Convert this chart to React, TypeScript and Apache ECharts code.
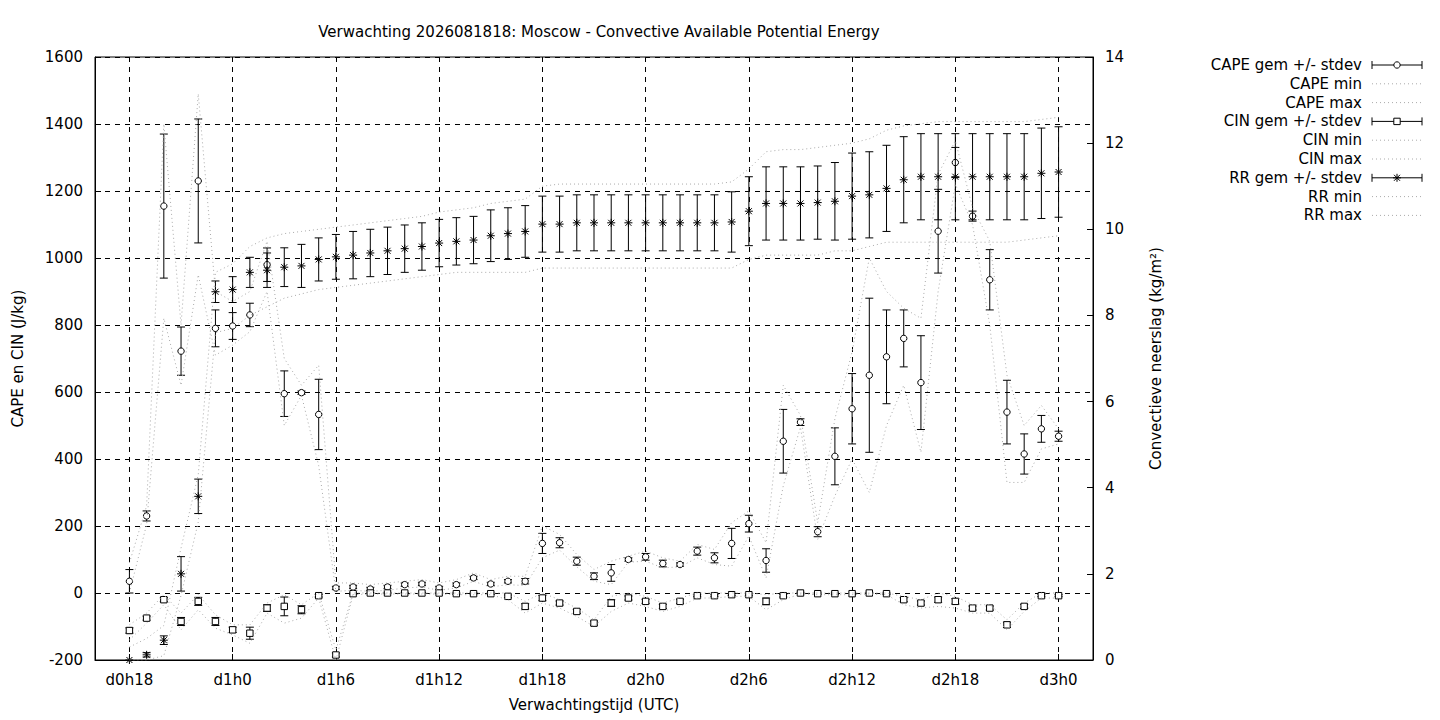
import React, { useEffect, useRef } from 'react';
import * as echarts from 'echarts';

// hours 16..74 on the axis; data runs from hour 18 (d0h18) to 72 (d3h0)
const hours = Array.from({ length: 59 }, (_, i) => 16 + i);
const firstIdx = 2;

const capeMean = [35,230,1155,722,1230,790,797,830,980,595,598,533,15,18,12,18,25,27,15,25,45,27,35,35,148,150,95,50,60,100,108,88,85,125,105,148,207,97,453,510,183,408,550,650,705,760,628,1080,1285,1125,935,540,415,490,468];
const capeStd = [35,15,215,72,185,55,40,35,50,68,5,105,5,5,5,5,5,5,5,5,5,5,5,8,30,15,12,10,25,5,10,10,5,12,15,45,25,35,95,10,15,85,105,230,140,85,140,125,45,15,90,95,60,40,15];
const capeMax = [90,260,1400,800,1490,900,870,900,1050,700,620,680,30,30,25,30,35,40,30,40,60,40,50,50,200,175,115,70,95,110,125,105,95,145,130,210,245,150,620,530,210,520,720,1000,900,850,820,1250,1350,1150,1050,650,500,560,490];
const capeMin = [0,205,820,620,950,710,740,780,900,500,590,380,5,8,5,8,15,18,8,15,35,18,25,22,105,128,78,35,25,92,95,75,78,105,85,80,170,45,320,495,160,290,400,300,500,620,420,900,1220,1100,800,330,330,430,445];
const cinMean = [-112,-75,-20,-85,-25,-85,-110,-120,-45,-40,-50,-8,-185,-2,0,0,0,0,0,-2,-2,-2,-10,-40,-15,-30,-55,-90,-30,-15,-25,-40,-25,-8,-8,-5,-5,-25,-8,0,-2,-2,-2,0,-2,-20,-30,-20,-25,-45,-45,-95,-40,-8,-8];
const cinStd = [8,6,6,12,12,12,8,18,10,28,12,4,6,2,2,2,2,2,2,2,2,2,4,8,8,6,6,6,10,6,6,6,6,3,3,3,3,10,4,2,2,2,2,2,2,6,6,8,8,6,6,8,6,3,3];
const cinMax = [-95,-60,-5,-60,-5,-65,-95,-95,-30,-5,-35,0,-170,0,0,0,0,0,0,0,0,0,0,-25,0,-20,-45,-80,-10,0,-10,-30,-15,0,0,0,0,-5,0,0,0,0,0,0,0,-10,-20,0,-10,-35,-35,-80,-30,0,0];
const cinMin = [-140,-90,-35,-110,-50,-105,-125,-150,-60,-90,-75,-15,-200,-5,-3,-3,-3,-3,-3,-5,-5,-5,-20,-60,-30,-45,-70,-100,-55,-30,-40,-55,-40,-15,-15,-10,-10,-50,-20,-3,-5,-5,-5,-3,-5,-35,-45,-40,-45,-60,-60,-110,-55,-15,-15];
const rrMean = [0,0.12,0.46,2.0,3.8,8.55,8.6,9.0,9.05,9.12,9.15,9.3,9.36,9.4,9.45,9.5,9.55,9.6,9.68,9.72,9.75,9.85,9.9,9.95,10.12,10.12,10.15,10.15,10.15,10.15,10.15,10.15,10.15,10.15,10.15,10.17,10.42,10.6,10.6,10.6,10.62,10.65,10.77,10.8,10.95,11.15,11.22,11.22,11.22,11.22,11.22,11.22,11.22,11.3,11.33];
const rrStd = [0,0.05,0.1,0.4,0.4,0.25,0.3,0.35,0.4,0.45,0.5,0.5,0.52,0.55,0.55,0.55,0.55,0.55,0.55,0.55,0.55,0.6,0.6,0.6,0.65,0.65,0.65,0.65,0.65,0.65,0.65,0.65,0.65,0.65,0.65,0.7,0.8,0.85,0.85,0.85,0.85,0.9,1.0,1.0,1.0,1.0,1.0,1.0,1.0,1.0,1.0,1.0,1.0,1.05,1.05];
const rrMax = [0.3,0.5,0.8,2.6,4.3,9.0,9.2,9.6,9.8,9.9,9.95,10.0,10.05,10.1,10.15,10.2,10.25,10.3,10.4,10.45,10.5,10.6,10.65,10.7,11.0,11.05,11.05,11.05,11.05,11.05,11.05,11.05,11.05,11.05,11.05,11.1,11.4,11.8,11.85,11.85,11.9,11.95,12.0,12.1,12.3,12.4,12.45,12.5,12.5,12.5,12.5,12.5,12.5,12.55,12.6];
const rrMin = [0,0,0.1,1.5,3.2,7.6,7.7,8.0,8.2,8.4,8.5,8.6,8.65,8.7,8.75,8.8,8.85,8.9,8.95,9.0,9.0,9.0,9.0,9.0,9.1,9.1,9.1,9.1,9.1,9.1,9.1,9.1,9.1,9.1,9.1,9.1,9.3,9.4,9.4,9.4,9.4,9.5,9.5,9.6,9.7,9.7,9.7,9.7,9.7,9.7,9.7,9.7,9.75,9.8,9.85];

const legendNames = ['CAPE gem +/- stdev','CAPE min','CAPE max','CIN gem +/- stdev','CIN min','CIN max','RR gem +/- stdev','RR min','RR max'];

const label = (h: number) => `d${Math.floor(h / 24)}h${h % 24}`;
const majorTick = (i: number) => (i - firstIdx) % 6 === 0;

const line = (x1: number, y1: number, x2: number, y2: number) => ({
  type: 'line', shape: { x1, y1, x2, y2 }, style: { stroke: '#000', lineWidth: 1 },
});

const marker = (kind: string, x: number, y: number) => {
  if (kind === 'circle') return { type: 'circle', shape: { cx: x, cy: y, r: 3.2 }, style: { fill: '#fff', stroke: '#000', lineWidth: 1 } };
  if (kind === 'rect') return { type: 'rect', shape: { x: x - 3.2, y: y - 3.2, width: 6.4, height: 6.4 }, style: { fill: '#fff', stroke: '#000', lineWidth: 1 } };
  return { type: 'group', children: [line(x - 4, y, x + 4, y), line(x, y - 4, x, y + 4), line(x - 3, y - 3, x + 3, y + 3), line(x - 3, y + 3, x + 3, y - 3)] };
};

const errorSeries = (name: string, mean: number[], std: number[], kind: string, yAxisIndex: number) => ({
  name, type: 'custom', yAxisIndex,
  data: mean.map((m, i) => [i + firstIdx, m, std[i]]),
  renderItem: (_p: any, api: any) => {
    const x = api.value(0), m = api.value(1), s = api.value(2);
    const c = api.coord([x, m]);
    const t = api.coord([x, m + s]);
    const b = api.coord([x, m - s]);
    const kids: any[] = [];
    if (s > 0) kids.push(line(c[0], t[1], c[0], b[1]), line(c[0] - 4, t[1], c[0] + 4, t[1]), line(c[0] - 4, b[1], c[0] + 4, b[1]));
    kids.push(marker(kind, c[0], c[1]));
    return { type: 'group', children: kids };
  },
});

const dotted = (name: string, vals: number[], yAxisIndex: number) => ({
  name, type: 'line', yAxisIndex, symbol: 'none',
  data: hours.map((_, i) => (i >= firstIdx && i - firstIdx < vals.length ? vals[i - firstIdx] : '-')),
  lineStyle: { color: '#aaa', width: 1, type: [1, 3] },
});

const legendGraphic = () => {
  const els: any[] = [];
  legendNames.forEach((n, i) => {
    const y = 65 + i * 18.8;
    els.push({ type: 'text', x: 1362, y, style: { text: n, fill: '#000', font: '15px "DejaVu Sans"', align: 'right', verticalAlign: 'middle' } });
    if (n.includes('gem')) {
      const kind = n.startsWith('CAPE') ? 'circle' : n.startsWith('CIN') ? 'rect' : 'star';
      els.push(line(1372, y, 1422, y), line(1372, y - 4, 1372, y + 4), line(1422, y - 4, 1422, y + 4), marker(kind, 1397, y));
    } else {
      els.push({ type: 'line', shape: { x1: 1372, y1: y, x2: 1422, y2: y }, style: { stroke: '#aaa', lineWidth: 1, lineDash: [1, 3] } });
    }
  });
  return els;
};

const App: React.FC = () => {
  const chartRef = useRef<HTMLDivElement>(null);

  useEffect(() => {
    const chart = echarts.init(chartRef.current!, null, { renderer: 'svg' });
    const font = { fontFamily: 'DejaVu Sans', fontSize: 15, color: '#000' };
    const option: any = {
      animation: false,
      backgroundColor: '#fff',
      title: { text: 'Verwachting 2026081818: Moscow - Convective Available Potential Energy', left: 594, top: 19, textAlign: 'center', textStyle: { fontFamily: 'DejaVu Sans', fontSize: 15, fontWeight: 'normal', color: '#000' } },
      grid: { left: 95, right: 347, top: 57, bottom: 60, show: true, borderColor: '#000', borderWidth: 1, backgroundColor: 'transparent' },
      xAxis: {
        type: 'category', data: hours, boundaryGap: false,
        name: 'Verwachtingstijd (UTC)', nameLocation: 'middle', nameGap: 37, nameTextStyle: font,
        axisLine: { onZero: false, lineStyle: { color: '#000' } },
        axisTick: { inside: true, length: 6, interval: majorTick, lineStyle: { color: '#000' } },
        axisLabel: { ...font, interval: majorTick, margin: 12, formatter: (v: string) => label(Number(v)) },
        splitLine: { show: true, interval: majorTick, lineStyle: { color: '#000', type: [5, 5] } },
      },
      yAxis: [
        {
          type: 'value', min: -200, max: 1600, interval: 200,
          name: 'CAPE en CIN (J/kg)', nameLocation: 'middle', nameGap: 70, nameTextStyle: font,
          axisLine: { show: true, lineStyle: { color: '#000' } },
          axisTick: { show: true, inside: true, length: 6, lineStyle: { color: '#000' } },
          axisLabel: { ...font, margin: 12, formatter: (v: number) => String(v) },
          splitLine: { lineStyle: { color: '#000', type: [5, 5] } },
        },
        {
          type: 'value', min: 0, max: 14, interval: 2,
          name: 'Convectieve neerslag (kg/m²)', nameLocation: 'middle', nameGap: 55, nameTextStyle: font,
          axisLine: { show: true, lineStyle: { color: '#000' } },
          axisTick: { show: true, inside: true, length: 6, lineStyle: { color: '#000' } },
          axisLabel: { ...font, margin: 12, formatter: (v: number) => String(v) },
          splitLine: { show: false },
        },
      ],
      graphic: legendGraphic(),
      series: [
        dotted('CAPE min', capeMin, 0),
        dotted('CAPE max', capeMax, 0),
        dotted('CIN min', cinMin, 0),
        dotted('CIN max', cinMax, 0),
        dotted('RR min', rrMin, 1),
        dotted('RR max', rrMax, 1),
        errorSeries('CAPE gem +/- stdev', capeMean, capeStd, 'circle', 0),
        errorSeries('CIN gem +/- stdev', cinMean, cinStd, 'rect', 0),
        errorSeries('RR gem +/- stdev', rrMean, rrStd, 'star', 1),
      ],
    };
    chart.setOption(option);
    return () => {
      chart.dispose();
    };
  }, []);

  return <div ref={chartRef} style={{ width: '1440px', height: '720px', position: 'absolute', left: 0, top: 0 }} />;
};

export default App;
